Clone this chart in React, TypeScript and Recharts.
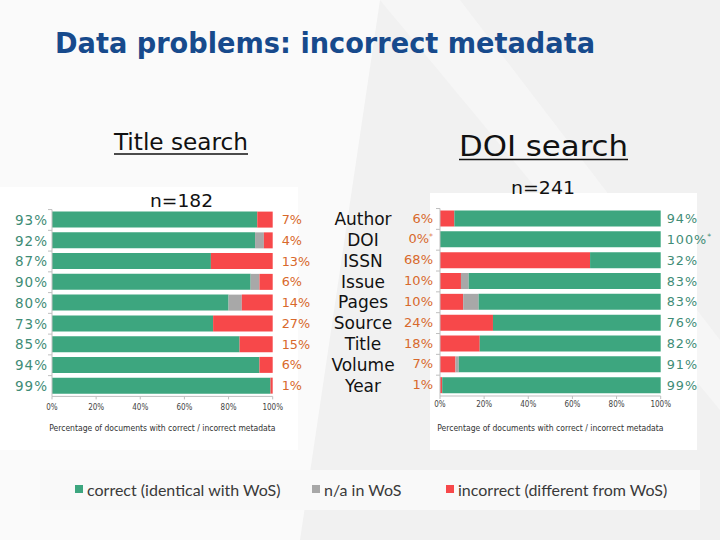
import React from 'react'
import { BarChart, Bar, XAxis, YAxis, Legend, LabelList } from 'recharts'

const fields = ['Author', 'DOI', 'ISSN', 'Issue', 'Pages', 'Source', 'Title', 'Volume', 'Year']

// Title search, n=182
const titleCorrect = [93, 92, 72, 90, 80, 73, 85, 94, 99]
const titleNA = [0, 4, 0, 4, 6, 0, 0, 0, 0]
const titleIncorrect = [7, 4, 28, 6, 14, 27, 15, 6, 1]
const titleCorrectLabels = ['93%', '92%', '87%', '90%', '80%', '73%', '85%', '94%', '99%']
const titleIncorrectLabels = ['7%', '4%', '13%', '6%', '14%', '27%', '15%', '6%', '1%']

// DOI search, n=241
const doiIncorrect = [6.5, 0, 68, 9.5, 10.5, 24, 18, 7, 1]
const doiNA = [0, 0, 0, 3.5, 7, 0, 0, 1.5, 0]
const doiCorrect = [93.5, 100, 32, 87, 82.5, 76, 82, 91.5, 99]
const doiIncorrectLabels = ['6%', '0%*', '68%', '10%', '10%', '24%', '18%', '7%', '1%']
const doiCorrectLabels = ['94%', '100%*', '32%', '83%', '83%', '76%', '82%', '91%', '99%']

const xTicks = [0, 20, 40, 60, 80, 100]

const GREEN = '#3da67f'
const GRAY = '#a8a8a8'
const RED = '#f7484a'
const TEAL_TEXT = '#3f8c76'
const ORANGE_TEXT = '#d8692c'
const AXIS = '#bfbfbf'
const COND = '"DejaVu Sans Condensed", "DejaVu Sans", sans-serif'
const SANS = '"DejaVu Sans", Verdana, sans-serif'
const AXIS_TITLE = 'Percentage of documents with correct / incorrect metadata'
const HALF_BAND = 10.4

const titleData = fields.map((name, i) => ({
  name,
  correct: titleCorrect[i],
  na: titleNA[i],
  incorrect: titleIncorrect[i],
  rLabel: titleIncorrectLabels[i],
}))

const doiData = fields.map((name, i) => ({
  name,
  incorrect: doiIncorrect[i],
  na: doiNA[i],
  correct: doiCorrect[i],
  rLabel: doiCorrectLabels[i],
}))

const pct = (s: string) =>
  s.endsWith('*') ? (
    <>
      {s.slice(0, -1)}
      <tspan fontSize="0.6em" dy="-0.6em">*</tspan>
    </>
  ) : (
    s
  )

const TitleTick = (p: any) => {
  const { x, y, index } = p
  return (
    <g>
      <line x1={x} x2={x + 4} y1={y - HALF_BAND} y2={y - HALF_BAND} stroke={AXIS} />
      <text x={x} y={y} dy="0.36em" textAnchor="end" fontFamily={SANS} fontSize={13.5} letterSpacing={1} fill={TEAL_TEXT}>
        {titleCorrectLabels[index]}
      </text>
    </g>
  )
}

const DoiTick = (p: any) => {
  const { x, y, index, payload } = p
  return (
    <g>
      <line x1={x + 3} x2={x + 7} y1={y - HALF_BAND} y2={y - HALF_BAND} stroke={AXIS} />
      <text x={x - 70} y={y} dy="0.36em" textAnchor="middle" fontFamily={SANS} fontSize={17} fill="#111">
        {payload.value}
      </text>
      <text x={x} y={y - 1} dy="0.36em" textAnchor="end" fontFamily={SANS} fontSize={13} fill={ORANGE_TEXT}>
        {pct(doiIncorrectLabels[index])}
      </text>
    </g>
  )
}

const endLabel = (offset: number, color: string, spacing: number) => (p: any) => {
  const vb = p.viewBox || p
  const x = (p.x ?? vb.x) + (p.width ?? vb.width)
  const y = (p.y ?? vb.y) + (p.height ?? vb.height) / 2
  return (
    <text x={x + offset} y={y} dy="0.36em" fontFamily={SANS} fontSize={12.8} letterSpacing={spacing} fill={color}>
      {pct(String(p.value))}
    </text>
  )
}

// legend slots, in series order
const legendKeys = ['correct', 'na', 'incorrect']
const legendLeft = [75, 312, 446]

const renderLegend = (props: any) => (
  <div style={{ position: 'relative', width: 720, height: 22 }}>
    {(props.payload || []).map((e: any) => (
      <div
        key={e.value}
        style={{
          position: 'absolute',
          left: legendLeft[Math.max(0, legendKeys.indexOf(e.dataKey))],
          top: 0,
          height: 22,
          display: 'flex',
          alignItems: 'center',
          fontFamily: 'Lato, "Open Sans", sans-serif',
          fontSize: 16,
          color: '#3a3a3a',
          whiteSpace: 'nowrap',
        }}
      >
        <span style={{ display: 'inline-block', width: 8, height: 8, background: e.color, marginRight: 4 }} />
        {e.value}
      </div>
    ))}
  </div>
)

const axisProps = {
  type: 'number' as const,
  domain: [0, 100],
  ticks: xTicks,
  tickFormatter: (v: number) => `${v}%`,
  height: 35,
  tickSize: 3,
  axisLine: { stroke: AXIS },
  tickLine: { stroke: AXIS },
  tick: { fill: '#444', fontSize: 8, fontFamily: COND },
  label: { value: AXIS_TITLE, position: 'insideBottom' as const, offset: 0, fill: '#333', fontSize: 8.5, fontFamily: COND },
}

export default function App() {
  return (
    <div style={{ position: 'absolute', left: 0, top: 0, width: 720, height: 540, overflow: 'hidden', background: '#f1f1f1' }}>
      <svg width={720} height={540} style={{ position: 'absolute', left: 0, top: 0 }}>
        <polygon points="0,0 380,0 300,540 0,540" fill="#fafafa" />
        <polygon points="380,0 460,0 720,340 720,410" fill="#f6f6f6" />
        <rect x={0} y={187} width={298} height={263} fill="#fff" />
        <rect x={430} y={193} width={267} height={257} fill="#fff" />
        <rect x={40} y={470} width={660} height={40} fill="#f9f9f9" />
      </svg>

      <div style={{ position: 'absolute', left: 0, top: 0 }}>
        <BarChart width={720} height={540} data={titleData} layout="vertical" barSize={16}
          margin={{ top: 209.6, right: 447.3, bottom: 540 - 396.4 - 35, left: 0 }}>
          <XAxis {...axisProps} tickMargin={5} />
          <YAxis type="category" dataKey="name" width={52} tickSize={0} tickMargin={4}
            axisLine={{ stroke: AXIS }} tick={TitleTick} interval={0} />
          <Bar dataKey="correct" name="correct (identical with WoS)" stackId="a" fill={GREEN} isAnimationActive={false} />
          <Bar dataKey="na" name="n/a in WoS" stackId="a" fill={GRAY} isAnimationActive={false} />
          <Bar dataKey="incorrect" name="incorrect (different from WoS)" stackId="a" fill={RED} isAnimationActive={false}>
            <LabelList dataKey="rLabel" content={endLabel(9, ORANGE_TEXT, 0)} />
          </Bar>
          <Legend layout="horizontal" verticalAlign="middle" align="center" content={renderLegend}
            wrapperStyle={{ left: 0, top: 478, width: 720, height: 22 }} />
        </BarChart>
      </div>

      <div style={{ position: 'absolute', left: 0, top: 0 }}>
        <BarChart width={720} height={540} data={doiData} layout="vertical" barSize={16}
          margin={{ top: 208.5, right: 59.3, bottom: 540 - 396 - 35, left: 0 }}>
          <XAxis {...axisProps} tickMargin={2} />
          <YAxis type="category" dataKey="name" width={440} tickSize={0} tickMargin={7}
            axisLine={{ stroke: AXIS }} tick={DoiTick} interval={0} />
          <Bar dataKey="incorrect" stackId="b" fill={RED} isAnimationActive={false} />
          <Bar dataKey="na" stackId="b" fill={GRAY} isAnimationActive={false} />
          <Bar dataKey="correct" stackId="b" fill={GREEN} isAnimationActive={false}>
            <LabelList dataKey="rLabel" content={endLabel(6, TEAL_TEXT, 1)} />
          </Bar>
        </BarChart>
      </div>

      <svg width={720} height={540} style={{ position: 'absolute', left: 0, top: 0, pointerEvents: 'none' }}>
        <text x={55} y={53} textLength={540} lengthAdjust="spacingAndGlyphs" fontFamily={COND} fontWeight="bold" fontSize={28} fill="#174a8c">
          Data problems: incorrect metadata
        </text>
        <text x={114} y={150} textLength={134} lengthAdjust="spacingAndGlyphs" fontFamily={COND} fontSize={23} fill="#111">
          Title search
        </text>
        <line x1={114} x2={248} y1={154} y2={154} stroke="#111" strokeWidth={1.3} />
        <text x={459} y={156} textLength={169} lengthAdjust="spacingAndGlyphs" fontFamily={COND} fontSize={29} fill="#111">
          DOI search
        </text>
        <line x1={459} x2={628} y1={159.5} y2={159.5} stroke="#111" strokeWidth={1.5} />
        <text x={150} y={207} textLength={63} lengthAdjust="spacingAndGlyphs" fontFamily={SANS} fontSize={18} fill="#111">
          n=182
        </text>
        <text x={511} y={194} textLength={64} lengthAdjust="spacingAndGlyphs" fontFamily={SANS} fontSize={18} fill="#111">
          n=241
        </text>
      </svg>
    </div>
  )
}
